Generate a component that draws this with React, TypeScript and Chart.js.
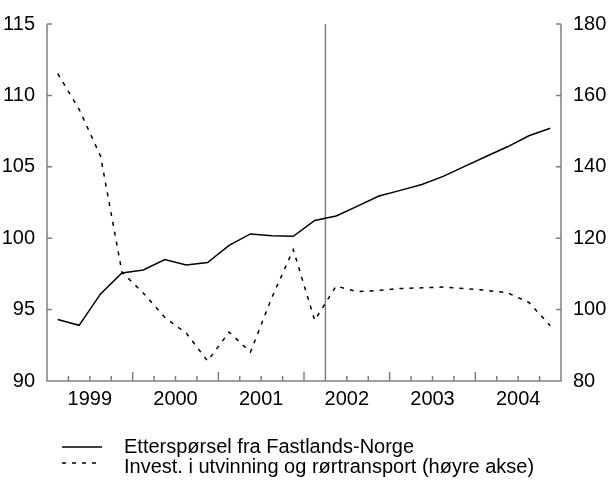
import React, { useEffect, useRef } from "react";
import { Chart, registerables } from "chart.js";

Chart.register(...registerables);

const quarters = [
  "1999K1", "1999K2", "1999K3", "1999K4",
  "2000K1", "2000K2", "2000K3", "2000K4",
  "2001K1", "2001K2", "2001K3", "2001K4",
  "2002K1", "2002K2", "2002K3", "2002K4",
  "2003K1", "2003K2", "2003K3", "2003K4",
  "2004K1", "2004K2", "2004K3", "2004K4",
];
const yearLabels = ["1999", "2000", "2001", "2002", "2003", "2004"];

// Left axis
const demand = [
  94.3, 93.9, 96.1, 97.57, 97.78, 98.5, 98.13, 98.3,
  99.5, 100.3, 100.18, 100.13, 101.24, 101.56, 102.25, 102.95,
  103.35, 103.76, 104.33, 105.03, 105.72, 106.4, 107.17, 107.7,
];
// Right axis
const invest = [
  166.1, 156.1, 143.0, 110.5, 104.6, 97.8, 93.4, 85.6,
  93.7, 88.1, 103.4, 116.8, 97.0, 106.6, 105.0, 105.4,
  105.9, 106.1, 106.3, 105.9, 105.4, 104.7, 102.0, 95.5,
];

const leftTicks = [90, 95, 100, 105, 110, 115];
const rightTicks = [80, 100, 120, 140, 160, 180];
const forecastStart = "2002K2";
const legendLabels = [
  "Etterspørsel fra Fastlands-Norge",
  "Invest. i utvinning og rørtransport (høyre akse)",
];

const AXIS = "#808080";
const FONT = '"Liberation Sans", Arial, sans-serif';

const axesPlugin = {
  id: "customAxes",
  beforeDatasetsDraw(chart: any) {
    const { ctx, chartArea, scales } = chart;
    const { left, right, top, bottom } = chartArea;
    const x = scales.x;
    const yl = scales.y;
    const yr = scales.y1;
    ctx.save();
    ctx.strokeStyle = AXIS;
    ctx.lineWidth = 1.5;
    ctx.beginPath();
    ctx.moveTo(left, top);
    ctx.lineTo(left, bottom);
    ctx.lineTo(right, bottom);
    ctx.lineTo(right, top);
    leftTicks.forEach((v) => {
      const py = yl.getPixelForValue(v);
      ctx.moveTo(left, py);
      ctx.lineTo(left + 5, py);
    });
    rightTicks.forEach((v) => {
      const py = yr.getPixelForValue(v);
      ctx.moveTo(right, py);
      ctx.lineTo(right - 5, py);
    });
    for (let k = 0; k <= quarters.length; k++) {
      const px = x.getPixelForValue(k - 0.5);
      const len = k % 4 === 0 ? 9 : 5;
      ctx.moveTo(px, bottom);
      ctx.lineTo(px, bottom - len);
    }
    const fi = quarters.indexOf(forecastStart);
    const vx = x.getPixelForValue(fi - 0.5);
    ctx.moveTo(vx, top);
    ctx.lineTo(vx, bottom);
    ctx.stroke();
    ctx.restore();
  },
};

export default function App() {
  const canvasRef = useRef<HTMLCanvasElement | null>(null);

  useEffect(() => {
    if (!canvasRef.current) return;
    const chart = new Chart(canvasRef.current, {
      type: "line",
      data: {
        labels: quarters,
        datasets: [
          {
            label: legendLabels[0],
            data: demand,
            yAxisID: "y",
            borderColor: "#000",
            borderWidth: 1.5,
            pointRadius: 0,
            tension: 0,
          },
          {
            label: legendLabels[1],
            data: invest,
            yAxisID: "y1",
            borderColor: "#000",
            borderWidth: 1.5,
            borderDash: [4, 6],
            pointRadius: 0,
            tension: 0,
          },
        ],
      },
      options: {
        responsive: false,
        animation: false,
        layout: { padding: { top: 20, bottom: 73, left: 0, right: 0 } },
        plugins: {
          legend: { display: false },
          tooltip: { enabled: false },
          title: { display: false },
        },
        scales: {
          x: {
            type: "category",
            offset: true,
            grid: { display: false, drawTicks: false },
            border: { display: false },
            afterBuildTicks: (s: any) => {
              s.ticks = yearLabels.map((_, k) => ({ value: k * 4 + 1.5 }));
            },
            ticks: {
              autoSkip: false,
              maxRotation: 0,
              minRotation: 0,
              padding: 6,
              color: "#000",
              font: { family: FONT, size: 20 },
              callback: (_v: any, i: number) => yearLabels[i],
            },
            afterFit: (s: any) => {
              s.height = 30;
            },
          },
          y: {
            position: "left",
            min: 90,
            max: 115,
            grid: { display: false, drawTicks: false },
            border: { display: false },
            afterBuildTicks: (s: any) => {
              s.ticks = leftTicks.map((v) => ({ value: v }));
            },
            ticks: {
              padding: 12,
              color: "#000",
              font: { family: FONT, size: 20 },
            },
            afterFit: (s: any) => {
              s.width = 47;
            },
          },
          y1: {
            position: "right",
            min: 80,
            max: 180,
            grid: { display: false, drawTicks: false },
            border: { display: false },
            afterBuildTicks: (s: any) => {
              s.ticks = rightTicks.map((v) => ({ value: v }));
            },
            ticks: {
              padding: 12,
              color: "#000",
              font: { family: FONT, size: 20 },
            },
            afterFit: (s: any) => {
              s.width = 49;
            },
          },
        },
      },
      plugins: [axesPlugin],
    } as any);
    return () => chart.destroy();
  }, []);

  const textStyle: React.CSSProperties = {
    position: "absolute",
    left: 124,
    fontFamily: FONT,
    fontSize: 20,
    lineHeight: "20px",
    color: "#000",
    whiteSpace: "nowrap",
  };

  return (
    <div style={{ position: "absolute", left: 0, top: 0, width: 610, height: 484, background: "#fff" }}>
      <canvas ref={canvasRef} width={610} height={484} style={{ display: "block" }} />
      <svg style={{ position: "absolute", left: 62, top: 436 }} width={40} height={40}>
        <line x1={0} y1={11} x2={40} y2={11} stroke="#000" strokeWidth={1.3} />
        <line x1={0} y1={27} x2={40} y2={27} stroke="#000" strokeWidth={1.3} strokeDasharray="4 6" />
      </svg>
      <div style={{ ...textStyle, top: 436 }}>{legendLabels[0]}</div>
      <div style={{ ...textStyle, top: 456 }}>{legendLabels[1]}</div>
    </div>
  );
}
